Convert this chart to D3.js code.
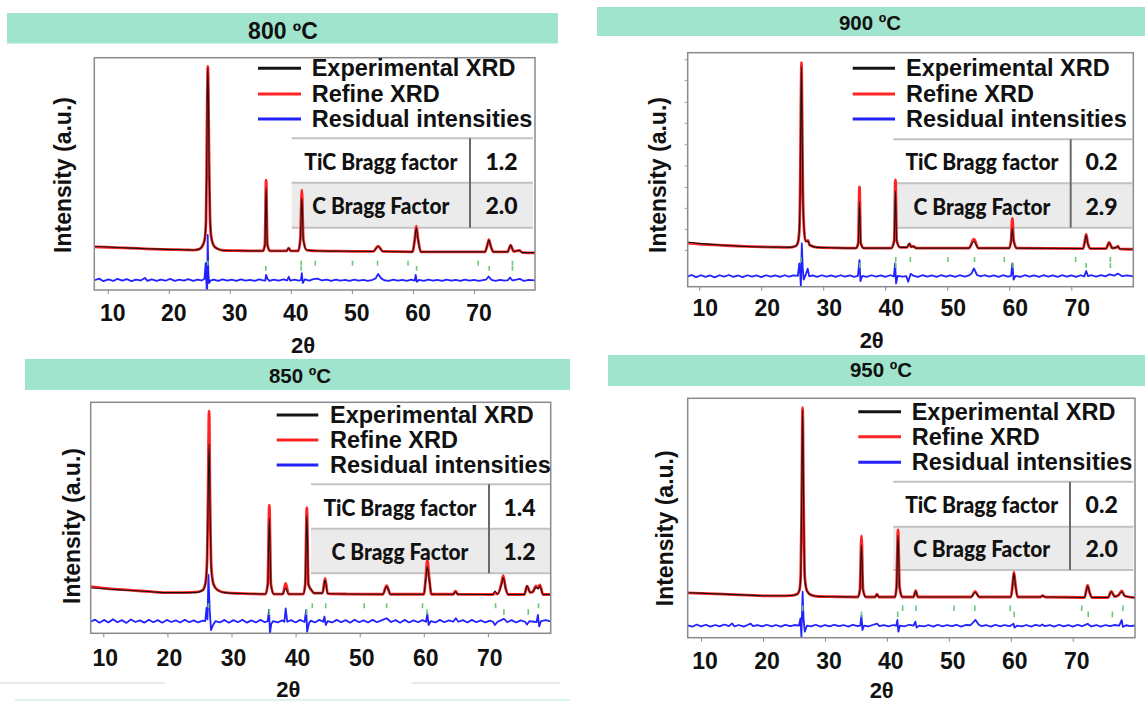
<!DOCTYPE html>
<html><head><meta charset="utf-8">
<script src="https://cdn.jsdelivr.net/npm/d3@7"></script>
<style>body{margin:0;background:#fff}svg{display:block}</style>
</head><body>
<svg id="c" width="1145" height="703"></svg>
<script>
// ---------------- DATA ----------------
const titles = ["800 ºC", "900 ºC", "850 ºC", "950 ºC"];
const legendLabels = ["Experimental XRD", "Refine XRD", "Residual intensities"];
const tableLabels = ["TiC Bragg factor", "C Bragg Factor"];
const bragg800 = ["1.2", "2.0"];
const bragg900 = ["0.2", "2.9"];
const bragg850 = ["1.4", "1.2"];
const bragg950 = ["0.2", "2.0"];
const xTicks = [10, 20, 30, 40, 50, 60, 70];
const xLabel = "2θ";
const yLabel = "Intensity (a.u.)";
const yTicks900 = [15.7, 24.7, 33.7, 42.6, 51.8, 60.9, 70.0, 79.0, 88.3, 97.2];

// Bragg reflection positions (2θ)
const cPos800 = [26.4, 41.7, 44.0, 50.1, 54.2, 59.2, 70.7, 76.3];
const ticPos800 = [35.9, 41.7, 60.6, 72.5, 76.3];
const cPos900 = [26.4, 41.7, 44.05, 50.1, 54.4, 59.2, 70.7, 76.3];
const ticPos900 = [35.9, 41.7, 60.6, 72.4, 76.3];
const cPos850 = [26.4, 42.6, 44.7, 50.7, 54.2, 59.8, 71.2, 77.9];
const ticPos850 = [35.9, 41.7, 60.5, 72.5, 76.3];
const cPos950 = [26.4, 42.55, 44.7, 50.85, 54.2, 59.9, 71.45, 78.1];
const ticPos950 = [35.9, 41.75, 60.55, 72.5, 76.4];

// Experimental / refined / residual patterns [2θ, intensity a.u.]
const exp800 = [[7.8,18.7],[10,18.5],[12.5,18.2],[15,17.9],[17.5,17.7],[20,17.5],[22.5,17.3],[24,17.2],[25,17.6],[25.6,19.5],[25.9,22],[26.1,30],[26.2,50],[26.3,80],[26.4,95.6],[26.5,82],[26.6,55],[26.75,32],[26.95,23],[27.3,19.5],[27.8,18],[29,17.0],[32,16.9],[35.4,16.8],[35.75,19.4],[35.95,43.9],[36.15,19.4],[36.6,16.8],[39.3,16.8],[39.65,18.1],[40.0,16.8],[41.2,16.8],[41.55,21.5],[41.8,39.6],[42.05,21.5],[42.6,17.2],[44.5,16.8],[48,16.7],[53.5,16.6],[54.3,18.7],[55.1,16.6],[59.9,16.4],[60.3,21.5],[60.55,26.7],[60.85,21.5],[61.3,16.4],[66,16.4],[71.8,16.4],[72.2,19.4],[72.45,21.5],[72.75,18.9],[73.2,16.4],[75.5,16.4],[76.0,19.2],[76.5,16.6],[77.4,17.0],[78,16.1],[80,16.1]];
const ref800 = [[7.8,18.6],[10,18.4],[12.5,18.1],[15,17.9],[17.5,17.6],[20,17.4],[22.5,17.3],[24,17.2],[25,17.6],[25.6,19.4],[25.9,22],[26.1,30],[26.2,51],[26.3,81],[26.4,96.3],[26.5,83],[26.6,56],[26.75,32],[26.95,23],[27.3,19.5],[27.8,18],[29,17.0],[32,16.9],[35.4,16.8],[35.75,19.6],[35.95,47.3],[36.15,19.6],[36.6,16.8],[39.3,16.8],[39.65,18.0],[40.0,16.8],[41.2,16.8],[41.55,21.8],[41.8,43.0],[42.05,21.8],[42.6,17.2],[44.5,16.8],[48,16.7],[53.5,16.6],[54.3,18.9],[55.1,16.6],[59.9,16.4],[60.3,21.8],[60.55,27.5],[60.85,21.8],[61.3,16.4],[66,16.4],[71.8,16.4],[72.2,19.4],[72.45,21.7],[72.75,18.9],[73.2,16.4],[75.5,16.4],[76.0,19.3],[76.5,16.6],[77.4,17.0],[78,16.1],[80,16.0]];
const res800 = [[7.8,4.2],[8.6,4.9],[9.3,3.8],[10.1,4.6],[10.9,3.9],[11.6,4.8],[12.4,4.0],[13.1,4.7],[13.9,3.8],[14.6,4.5],[15.4,4.1],[16.1,5.2],[16.5,3.9],[17.2,4.6],[18.0,3.9],[18.7,4.5],[19.5,4.0],[20.2,4.8],[21.0,3.9],[21.7,4.5],[22.5,4.0],[23.2,4.7],[24.0,3.9],[24.7,4.5],[25.4,4.1],[25.85,4.8],[26.05,11.6],[26.15,4.0],[26.22,0],[26.3,0.3],[26.38,23.7],[26.48,8],[26.6,3.0],[26.8,4.0],[27.4,4.5],[28.1,3.9],[28.8,4.6],[29.6,4.0],[30.3,4.5],[31.1,3.9],[31.8,4.6],[32.6,4.0],[33.3,4.4],[34.1,3.9],[34.8,4.6],[35.5,4.1],[35.8,4.0],[35.95,6.5],[36.15,4.9],[36.5,3.9],[37.2,4.5],[38.0,4.0],[38.8,4.6],[39.4,4.1],[39.65,5.7],[39.9,4.0],[40.6,4.5],[41.3,4.0],[41.65,4.3],[41.8,7.3],[41.95,3.0],[42.3,4.6],[43.0,4.0],[43.7,4.7],[44.4,4.9],[45.1,4.1],[45.9,4.5],[46.6,3.9],[47.4,4.5],[48.1,4.0],[48.9,4.4],[49.6,3.9],[50.4,4.5],[51.1,4.0],[51.9,4.4],[52.6,3.9],[53.4,4.4],[53.9,5.0],[54.3,6.9],[54.8,5.0],[55.3,4.2],[56.0,3.9],[56.8,4.5],[57.5,4.0],[58.3,4.4],[59.0,3.9],[59.7,4.5],[60.3,4.0],[60.45,6.5],[60.65,3.5],[61.0,4.4],[61.8,3.9],[62.5,4.5],[63.3,4.0],[64.0,4.4],[64.8,3.9],[65.5,4.5],[66.3,4.0],[67.0,4.4],[67.8,3.9],[68.5,4.5],[69.3,4.0],[70.0,4.4],[70.8,3.9],[71.5,4.3],[72.0,4.5],[72.4,5.8],[72.9,4.4],[73.5,3.9],[74.3,4.4],[75.0,4.0],[75.6,4.3],[75.9,5.4],[76.3,4.1],[77.0,4.5],[77.5,4.8],[78.2,3.9],[79.0,4.4],[80,4.1]];

const exp900 = [[8.1,19.1],[10,18.5],[12.5,18.0],[15,17.6],[17.5,17.2],[20,17.0],[22.5,16.9],[24.5,16.8],[25.5,17.3],[25.9,18.7],[26.15,24],[26.3,45],[26.4,75],[26.5,93.9],[26.6,70],[26.72,40],[26.9,25],[27.15,19.5],[27.4,19.3],[27.55,19.6],[27.8,17.8],[29,16.8],[32,16.6],[35.3,16.5],[35.65,18.5],[35.85,36.3],[36.05,18.5],[36.5,16.5],[41.0,16.5],[41.45,19.5],[41.65,41],[41.85,19.5],[42.4,16.8],[43.5,16.8],[43.9,18.5],[44.2,17.0],[44.5,17.2],[45,16.5],[53.5,16.5],[54.3,19.3],[55.0,16.5],[60.0,16.5],[60.3,19.5],[60.5,25],[60.7,19.5],[61.2,16.5],[71.9,16.3],[72.2,19.5],[72.4,22.1],[72.65,18.5],[73.1,16.3],[75.6,16.3],[76.1,18.8],[76.6,16.5],[77.2,16.7],[77.5,17.2],[77.8,16.2],[80,16]];
const ref900 = [[8.1,18.6],[10,18.2],[12.5,17.9],[15,17.5],[17.5,17.2],[20,17.0],[22.5,16.9],[24.5,16.8],[25.5,17.3],[25.9,18.7],[26.15,24],[26.3,46],[26.4,77],[26.5,95.7],[26.6,72],[26.72,41],[26.9,25],[27.15,19.5],[27.4,19.5],[27.55,19.8],[27.8,17.8],[29,16.8],[32,16.6],[35.3,16.5],[35.65,18.8],[35.85,42.7],[36.05,18.8],[36.5,16.5],[41.0,16.5],[41.45,19.8],[41.65,45.6],[41.85,19.8],[42.4,16.8],[43.5,16.8],[43.9,18.3],[44.2,17.0],[44.5,17.3],[45,16.5],[53.5,16.5],[54.3,20.3],[55.0,16.5],[60.0,16.5],[60.3,20.0],[60.5,29.2],[60.7,20.0],[61.2,16.5],[71.9,16.3],[72.2,19.7],[72.4,22.4],[72.65,18.6],[73.1,16.3],[75.6,16.3],[76.1,18.9],[76.6,16.5],[77.2,16.7],[77.5,17.3],[77.8,16.2],[80,16]];
const res900 = [[8.1,4.3],[8.8,5.0],[9.5,4.1],[10.3,4.9],[11.0,4.2],[11.8,4.8],[12.5,4.0],[13.3,4.9],[14.0,4.3],[14.8,5.0],[15.5,4.2],[16.3,4.8],[17.0,4.1],[17.8,4.9],[18.5,4.3],[19.3,4.8],[20.0,4.1],[20.8,4.9],[21.5,4.3],[22.3,4.8],[23.0,4.2],[23.8,4.9],[24.5,4.3],[25.2,4.8],[25.9,4.6],[26.15,10],[26.3,5],[26.4,0],[26.55,18.5],[26.7,8],[26.85,3],[27.1,4.6],[27.5,7.7],[27.75,4.4],[28.3,4.8],[29.0,4.2],[29.8,4.9],[30.5,4.3],[31.3,4.8],[32.0,4.2],[32.8,4.9],[33.5,4.3],[34.3,4.8],[35.0,4.2],[35.6,4.6],[35.85,11.4],[36.0,2.4],[36.3,4.6],[37.0,4.2],[37.8,4.9],[38.5,4.3],[39.3,4.8],[40.0,4.2],[40.8,4.9],[41.4,4.4],[41.6,10],[41.75,1.4],[42.0,4.6],[42.8,4.3],[43.4,4.5],[43.7,2.1],[44.1,5.5],[44.6,4.6],[45.3,4.2],[46.0,4.9],[46.8,4.3],[47.5,4.8],[48.3,4.2],[49.0,4.9],[49.8,4.3],[50.5,4.8],[51.3,4.2],[52.0,4.9],[52.8,4.3],[53.5,4.8],[53.9,5.6],[54.3,7.8],[54.8,5.0],[55.4,4.4],[56.0,4.9],[56.8,4.3],[57.5,4.8],[58.3,4.2],[59.0,4.9],[59.8,4.3],[60.3,4.6],[60.5,10],[60.7,3.0],[61.0,4.6],[61.8,4.2],[62.5,4.9],[63.3,4.3],[64.0,4.8],[64.8,4.2],[65.5,4.9],[66.3,4.3],[67.0,4.8],[67.8,4.2],[68.5,4.9],[69.3,4.3],[70.0,4.8],[70.8,4.2],[71.5,4.9],[72.1,4.4],[72.4,6.7],[72.7,4.5],[73.3,4.9],[74.0,4.3],[74.8,4.9],[75.5,4.4],[76.2,5.3],[76.9,4.7],[77.5,5.6],[78.2,4.5],[79.0,4.8],[80,4.4]];

const exp850 = [[8,19.7],[10,19.3],[12.5,18.8],[15,18.4],[17.5,18.0],[20,17.6],[22.5,17.6],[24.5,17.7],[25.5,18.5],[25.95,21.5],[26.2,31.7],[26.35,57.7],[26.5,81.8],[26.65,53.4],[26.85,27.4],[27.2,20.9],[27.8,18.7],[29,17.6],[32,17.2],[35.3,17.0],[35.65,20.9],[35.9,49.8],[36.15,20.9],[36.6,17.0],[38.0,17.0],[38.45,19.5],[38.9,17.0],[41.2,17.0],[41.5,20.9],[41.75,51.2],[42.0,20.9],[42.5,18.7],[42.9,17.4],[44.2,17.4],[44.6,23.1],[45.0,17.2],[48,17.0],[53.6,16.9],[54.2,20.2],[54.8,16.9],[60.0,16.9],[60.3,23.1],[60.55,28.8],[60.85,23.1],[61.2,16.9],[64.6,16.9],[64.95,18.0],[65.3,16.9],[70.8,16.8],[71.1,18.3],[71.5,17.0],[72.1,20.9],[72.4,24.1],[72.75,19.6],[73.2,16.8],[75.7,16.8],[76.1,20.6],[76.6,17.7],[77.0,17.9],[77.5,20.0],[77.8,19.2],[78.1,20.5],[78.6,16.8],[79.8,16.8]];
const ref850 = [[8,20.2],[10,19.6],[12.5,19.0],[15,18.5],[17.5,18.0],[20,17.6],[22.5,17.6],[24.5,17.8],[25.5,18.7],[25.95,22],[26.2,33],[26.35,62],[26.5,96.2],[26.65,58],[26.85,28.5],[27.2,21.2],[27.8,18.8],[29,17.6],[32,17.2],[35.3,17.0],[35.65,21.3],[35.9,55.5],[36.15,21.3],[36.6,17.0],[38.0,17.0],[38.45,21.6],[38.9,17.0],[41.2,17.0],[41.5,21.3],[41.75,54.4],[42.0,21.3],[42.5,18.5],[42.9,17.4],[44.2,17.4],[44.6,23.8],[45.0,17.2],[48,17.0],[53.6,16.9],[54.2,20.6],[54.8,16.9],[60.0,16.9],[60.3,23.8],[60.55,31.7],[60.85,23.8],[61.2,16.9],[64.6,16.9],[64.95,18.3],[65.3,16.9],[70.8,16.8],[71.1,17.6],[71.5,17.0],[72.1,21.3],[72.4,25.0],[72.75,19.8],[73.2,16.8],[75.7,16.8],[76.1,20.4],[76.6,17.7],[77.0,17.9],[77.5,20.5],[77.8,19.6],[78.1,21.0],[78.6,16.8],[79.8,16.8]];
const res850 = [[8,5.0],[8.7,5.9],[9.4,4.6],[10.1,5.8],[10.8,4.7],[11.5,6.1],[12.2,4.8],[12.9,5.7],[13.6,4.5],[14.3,6.0],[15.0,4.9],[15.7,5.6],[16.4,4.6],[17.1,5.9],[17.8,4.8],[18.5,5.7],[19.2,4.6],[19.9,5.8],[20.6,4.9],[21.3,5.6],[22.0,4.7],[22.7,5.9],[23.4,4.8],[24.1,5.6],[24.8,4.7],[25.5,5.5],[25.9,5.3],[26.1,11],[26.25,6],[26.4,25.3],[26.6,10],[26.8,1.4],[27.1,3.5],[27.5,5.3],[28.2,4.7],[28.9,5.8],[29.6,4.6],[30.3,5.7],[31.0,4.8],[31.7,5.9],[32.4,4.6],[33.1,5.6],[33.8,4.7],[34.5,5.8],[35.2,4.8],[35.65,5.3],[35.85,10.1],[36.0,0],[36.2,4],[36.5,5.3],[37.2,4.7],[37.9,5.6],[38.25,5.0],[38.45,10.8],[38.7,5.0],[39.3,5.7],[40.0,4.7],[40.7,5.8],[41.4,4.9],[41.65,10.1],[41.8,0.7],[42.1,4.5],[42.4,5.5],[43.0,4.7],[43.7,5.8],[44.3,5.0],[44.5,7.2],[44.7,3.6],[45.0,5.3],[45.7,4.7],[46.4,5.8],[47.1,4.8],[47.8,5.7],[48.5,4.6],[49.2,5.9],[49.9,4.8],[50.6,5.6],[51.3,4.7],[52.0,5.8],[52.7,4.8],[53.4,5.6],[54.2,6.5],[54.9,4.9],[55.6,5.7],[56.3,4.6],[57.0,5.8],[57.7,4.7],[58.4,5.6],[59.1,4.8],[59.8,5.7],[60.35,5.0],[60.55,8.7],[60.75,3.6],[61.1,5.3],[61.8,4.7],[62.5,5.8],[63.2,4.8],[63.9,5.6],[64.6,5.0],[65.0,6.5],[65.4,5.0],[66.1,5.7],[66.8,4.7],[67.5,5.8],[68.2,4.8],[68.9,5.6],[69.6,4.7],[70.3,5.5],[70.8,5.0],[71.1,3.6],[71.5,5.0],[72.0,5.6],[72.5,6.3],[73.0,4.8],[73.7,5.7],[74.4,4.7],[75.1,5.6],[75.8,5.0],[76.1,3.8],[76.5,5.3],[77.2,5.0],[77.6,4.8],[77.8,8.0],[78.0,3.0],[78.3,5.3],[79.0,5.7],[79.8,5.2]];

const exp950 = [[7.85,18.8],[10,18.6],[12.5,18.3],[15,18.1],[17.5,17.8],[20,17.5],[22.5,17.5],[24.5,17.6],[25.5,18.2],[25.9,19.9],[26.1,26.2],[26.25,57.5],[26.4,95.1],[26.55,57.5],[26.75,24.9],[27.1,19.5],[27.8,17.8],[29,17.2],[32,17.1],[35.3,17.0],[35.65,19.9],[35.9,38.7],[36.15,19.9],[36.6,17.0],[38.1,17.0],[38.4,18.1],[38.7,17.0],[41.3,17.0],[41.55,20.8],[41.8,42.9],[42.05,20.8],[42.5,17.0],[44.3,17.0],[44.65,19.5],[45.0,17.0],[48,17.0],[53.6,17.0],[54.25,19.0],[54.9,17.0],[60.0,17.0],[60.3,22.0],[60.5,26.9],[60.75,22.0],[61.1,17.0],[64.8,17.0],[65.15,17.6],[65.5,17.0],[71.9,16.8],[72.2,19.9],[72.4,21.6],[72.7,19.1],[73.1,16.8],[75.7,16.8],[76.2,19.2],[76.8,17.2],[77.4,17.8],[77.9,19.2],[78.4,17.4],[80.05,16.7]];
const ref950 = [[7.85,18.7],[10,18.5],[12.5,18.3],[15,18.0],[17.5,17.8],[20,17.5],[22.5,17.5],[24.5,17.6],[25.5,18.2],[25.9,20.0],[26.1,26.5],[26.25,58.5],[26.4,96.1],[26.55,58.5],[26.75,25.2],[27.1,19.6],[27.8,17.8],[29,17.2],[32,17.1],[35.3,17.0],[35.65,20.1],[35.9,42.5],[36.15,20.1],[36.6,17.0],[38.1,17.0],[38.4,18.2],[38.7,17.0],[41.3,17.0],[41.55,21.0],[41.8,45.0],[42.05,21.0],[42.5,17.0],[44.3,17.0],[44.65,19.7],[45.0,17.0],[48,17.0],[53.6,17.0],[54.25,19.3],[54.9,17.0],[60.0,17.0],[60.3,22.2],[60.5,27.4],[60.75,22.2],[61.1,17.0],[64.8,17.0],[65.15,17.6],[65.5,17.0],[71.9,16.8],[72.2,20.0],[72.4,21.9],[72.7,19.1],[73.1,16.8],[75.7,16.8],[76.2,19.3],[76.8,17.2],[77.4,17.8],[77.9,19.5],[78.4,17.4],[80.05,16.7]];
const res950 = [[7.85,5.1],[8.6,4.6],[9.3,5.5],[10.0,4.7],[10.8,5.4],[11.5,4.6],[12.3,5.3],[13.0,4.7],[13.8,5.5],[14.5,4.8],[15.0,6.0],[15.4,4.7],[16.1,5.3],[16.9,4.6],[17.6,5.4],[18.0,5.9],[18.4,4.8],[19.1,5.3],[19.9,4.7],[20.6,5.4],[21.4,4.7],[22.1,5.3],[22.9,4.6],[23.6,5.4],[24.4,4.8],[25.1,5.3],[25.8,5.0],[26.05,8.1],[26.2,0.4],[26.4,19.2],[26.55,8],[26.75,2.5],[27.1,5.0],[27.8,4.7],[28.5,5.4],[29.3,4.6],[30.0,5.3],[30.8,4.7],[31.5,5.4],[32.3,4.8],[33.0,5.3],[33.8,4.6],[34.5,5.4],[35.3,4.8],[35.7,5.0],[35.9,9.3],[36.05,3.2],[36.3,5.0],[37.0,4.7],[37.7,5.3],[38.4,5.9],[38.8,4.8],[39.5,5.3],[40.3,4.7],[41.0,5.3],[41.5,5.0],[41.7,7.4],[41.85,2.5],[42.1,5.0],[42.8,4.7],[43.6,5.4],[44.3,5.0],[44.6,6.7],[44.8,4.2],[45.2,5.0],[46.0,4.7],[46.7,5.3],[47.5,4.6],[48.2,5.4],[49.0,4.7],[49.7,5.3],[50.5,4.8],[51.2,5.4],[52.0,4.6],[52.7,5.3],[53.5,5.2],[54.3,7.4],[54.8,5.5],[55.3,4.8],[56.0,5.3],[56.8,4.6],[57.5,5.4],[58.3,4.7],[59.0,5.3],[59.8,4.8],[60.45,5.8],[60.6,4.2],[61.0,5.0],[61.8,4.7],[62.5,5.3],[63.3,4.6],[64.0,5.4],[64.7,4.9],[65.1,5.5],[65.5,4.8],[66.3,5.3],[67.0,4.6],[67.8,5.4],[68.5,4.7],[69.3,5.3],[70.0,4.6],[70.8,5.4],[71.5,4.8],[72.4,5.8],[73.0,4.7],[73.8,5.3],[74.5,4.6],[75.3,5.3],[76.0,4.8],[76.7,5.3],[77.5,5.0],[77.9,7.4],[78.1,4.5],[78.6,5.2],[79.3,4.8],[80.05,5.1]];

const xDom800 = [7.8, 80], xDom900 = [8.15, 80], xDom850 = [8.03, 79.8], xDom950 = [7.85, 80.05];

// ---------------- LAYOUT ----------------
const panels = [
  {title: titles[0], exp: exp800, ref: ref800, res: res800, cPos: cPos800, ticPos: ticPos800, vals: bragg800, xdom: xDom800,
   box: [94.3, 57.7, 535, 290], banner: [7, 13, 558, 43.5], btxt: [283, 30.7, 23],
   leg: {x0: 258, x1: 301, tx: 311.7, ys: [68.3, 94, 119]},
   tab: {x0: 291.7, x1: 533, xd: 470, ys: [138.3, 182.7, 227.7]},
   tickY: 313, labDx: 5, xlab: [303, 345], ylab: [63.3, 175],
   bc: [12.6, 10.5], bt: [10.3, 8.3], yTicks: null},
  {title: titles[1], exp: exp900, ref: ref900, res: res900, cPos: cPos900, ticPos: ticPos900, vals: bragg900, xdom: xDom900,
   box: [687.7, 52.7, 1133.3, 286.7], banner: [597, 7, 1145, 36], btxt: [870, 22, 20.5],
   leg: {x0: 852.7, x1: 895, tx: 906, ys: [68.3, 94, 119]},
   tab: {x0: 893.3, x1: 1132.3, xd: 1070.7, ys: [139.3, 183.3, 227.7]},
   tickY: 308.3, labDx: 6, xlab: [871.7, 340.7], ylab: [658.3, 175],
   bc: [12.7, 10.6], bt: [10.1, 8.0], yTicks: yTicks900},
  {title: titles[2], exp: exp850, ref: ref850, res: res850, cPos: cPos850, ticPos: ticPos850, vals: bragg850, xdom: xDom850,
   box: [90.7, 402.3, 550.7, 633.3], banner: [25, 359, 570, 390], btxt: [300, 375, 20.5],
   leg: {x0: 276.7, x1: 318.3, tx: 330, ys: [415, 440, 465]},
   tab: {x0: 311, x1: 550, xd: 489, ys: [484.3, 528.7, 573.3]},
   tickY: 657.7, labDx: 2, xlab: [288.3, 689.5], ylab: [71.7, 526],
   bc: [13.0, 10.8], bt: [10.4, 7.9], yTicks: null},
  {title: titles[3], exp: exp950, ref: ref950, res: res950, cPos: cPos950, ticPos: ticPos950, vals: bragg950, xdom: xDom950,
   box: [687.7, 398.3, 1135, 637.7], banner: [608, 355, 1145, 386], btxt: [881, 369.5, 20.5],
   leg: {x0: 858.3, x1: 901, tx: 911.7, ys: [411.7, 436.7, 462.3]},
   tab: {x0: 893.3, x1: 1133.3, xd: 1070, ys: [481.7, 526.7, 570]},
   tickY: 661, labDx: 4, xlab: [881.7, 690.5], ylab: [665, 528.3],
   bc: [13.4, 11.2], bt: [10.9, 8.5], yTicks: null}
];

const ARIAL = "'Liberation Sans', Arial, Helvetica, sans-serif";
const TABF = "Lato, 'Open Sans', sans-serif";
const colExp = "#141414", colRef = "#ff2424", colRes = "#2222ff", colBragg = "#6cc877";

const svg = d3.select("#c");
svg.append("rect").attr("width", 1145).attr("height", 703).attr("fill", "#fff");

// faint artifacts of the composite figure
svg.append("line").attr("x1", 0).attr("x2", 165).attr("y1", 683).attr("y2", 683).attr("stroke", "#e2e2e2").attr("stroke-width", 1.5);
svg.append("line").attr("x1", 412).attr("x2", 560).attr("y1", 683).attr("y2", 683).attr("stroke", "#e2e2e2").attr("stroke-width", 1.5);
svg.append("line").attr("x1", 15).attr("x2", 570).attr("y1", 700).attr("y2", 700).attr("stroke", "#dcf4ec").attr("stroke-width", 2);

panels.forEach((p, i) => {
  const [bx0, by0, bx1, by1] = p.box;
  const x = d3.scaleLinear().domain(p.xdom).range([bx0, bx1]);
  const y = d3.scaleLinear().domain([0, 100]).range([by1, by0]);
  const g = svg.append("g");

  // banner
  const [b0, bt0, b1, bt1] = p.banner;
  g.append("rect").attr("x", b0).attr("y", bt0).attr("width", b1 - b0).attr("height", bt1 - bt0).attr("fill", "#a0e4cd");
  g.append("text").attr("x", p.btxt[0]).attr("y", p.btxt[1]).attr("text-anchor", "middle").attr("dominant-baseline", "central")
    .attr("font-family", ARIAL).attr("font-weight", "bold").attr("font-size", p.btxt[2]).attr("fill", "#111").text(p.title);

  // table background + lines
  const t = p.tab;
  g.append("rect").attr("x", t.x0).attr("y", t.ys[1]).attr("width", t.x1 - t.x0).attr("height", t.ys[2] - t.ys[1]).attr("fill", "#ebebeb");
  t.ys.forEach(yy => g.append("line").attr("x1", t.x0).attr("x2", t.x1).attr("y1", yy).attr("y2", yy).attr("stroke", "#c2c2c2").attr("stroke-width", 2));
  g.append("line").attr("x1", t.xd).attr("x2", t.xd).attr("y1", t.ys[0]).attr("y2", t.ys[2]).attr("stroke", "#6a6a6a").attr("stroke-width", 2);

  // curves
  const clipId = "clip" + i;
  svg.append("clipPath").attr("id", clipId).append("rect").attr("x", bx0).attr("y", by0).attr("width", bx1 - bx0).attr("height", by1 - by0);
  const cg = g.append("g").attr("clip-path", `url(#${clipId})`);
  const lineM = d3.line().x(d => x(d[0])).y(d => y(d[1])).curve(d3.curveMonotoneX);
  const lineL = d3.line().x(d => x(d[0])).y(d => y(d[1]));
  cg.append("path").attr("d", lineL(p.res)).attr("fill", "none").attr("stroke", colRes).attr("stroke-width", 1.8).attr("stroke-linejoin", "round");
  cg.append("path").attr("d", lineM(p.ref)).attr("fill", "none").attr("stroke", colRef).attr("stroke-width", 2.8).attr("stroke-linejoin", "round");
  cg.append("path").attr("d", lineM(p.exp)).attr("fill", "none").attr("stroke", colExp).attr("stroke-width", 1.1).attr("stroke-linejoin", "round");

  // Bragg ticks
  cg.selectAll(null).data(p.cPos).enter().append("line")
    .attr("x1", d => x(d)).attr("x2", d => x(d)).attr("y1", y(p.bc[0])).attr("y2", y(p.bc[1]))
    .attr("stroke", colBragg).attr("stroke-width", 1.6);
  cg.selectAll(null).data(p.ticPos).enter().append("line")
    .attr("x1", d => x(d)).attr("x2", d => x(d)).attr("y1", y(p.bt[0])).attr("y2", y(p.bt[1]))
    .attr("stroke", colBragg).attr("stroke-width", 1.6);

  // frame
  g.append("rect").attr("x", bx0).attr("y", by0).attr("width", bx1 - bx0).attr("height", by1 - by0)
    .attr("fill", "none").attr("stroke", "#8a8a8a").attr("stroke-width", 1.5);

  // x axis ticks
  const ax = g.append("g").attr("transform", `translate(0,${by1})`)
    .call(d3.axisBottom(x).tickValues(xTicks).tickSize(4).tickSizeOuter(0).tickFormat(""));
  ax.select(".domain").remove();
  ax.selectAll("line").attr("stroke", "#8a8a8a").attr("stroke-width", 1);
  g.selectAll(null).data(xTicks).enter().append("text")
    .attr("x", d => x(d) + p.labDx).attr("y", p.tickY).attr("text-anchor", "middle").attr("dominant-baseline", "central")
    .attr("font-family", ARIAL).attr("font-weight", "bold").attr("font-size", 23).attr("fill", "#111").text(d => d);

  // y axis minor ticks (900 panel)
  if (p.yTicks) {
    const ay = g.append("g").attr("transform", `translate(${bx0},0)`)
      .call(d3.axisLeft(y).tickValues(p.yTicks).tickSize(3).tickSizeOuter(0).tickFormat(""));
    ay.select(".domain").remove();
    ay.selectAll("line").attr("stroke", "#9a9a9a").attr("stroke-width", 1);
  }

  // axis titles
  g.append("text").attr("x", p.xlab[0]).attr("y", p.xlab[1]).attr("text-anchor", "middle").attr("dominant-baseline", "central")
    .attr("font-family", ARIAL).attr("font-weight", "bold").attr("font-size", 22).attr("fill", "#111").text(xLabel);
  g.append("text").attr("transform", `translate(${p.ylab[0]},${p.ylab[1]}) rotate(-90)`).attr("text-anchor", "middle").attr("dominant-baseline", "central")
    .attr("font-family", ARIAL).attr("font-weight", "bold").attr("font-size", 23).attr("fill", "#111").text(yLabel);

  // legend
  const cols = [colExp, colRef, colRes];
  legendLabels.forEach((lab, k) => {
    const yy = p.leg.ys[k];
    g.append("line").attr("x1", p.leg.x0).attr("x2", p.leg.x1).attr("y1", yy).attr("y2", yy).attr("stroke", cols[k]).attr("stroke-width", 3);
    g.append("text").attr("x", p.leg.tx).attr("y", yy).attr("dominant-baseline", "central")
      .attr("font-family", ARIAL).attr("font-weight", "bold").attr("font-size", 23.5).attr("fill", "#111").text(lab);
  });

  // table text
  tableLabels.forEach((lab, k) => {
    const yy = (t.ys[k] + t.ys[k + 1]) / 2;
    g.append("text").attr("x", (t.x0 + t.xd) / 2).attr("y", yy).attr("text-anchor", "middle").attr("dominant-baseline", "central")
      .attr("font-family", TABF).attr("font-weight", 900).attr("font-size", 23)
      .attr("textLength", k === 0 ? 153 : 137).attr("lengthAdjust", "spacingAndGlyphs").attr("fill", "#111").text(lab);
    g.append("text").attr("x", (t.xd + t.x1) / 2).attr("y", yy).attr("text-anchor", "middle").attr("dominant-baseline", "central")
      .attr("font-family", TABF).attr("font-weight", 900).attr("font-size", 23).attr("fill", "#111").text(p.vals[k]);
  });
});
</script>
</body></html>
